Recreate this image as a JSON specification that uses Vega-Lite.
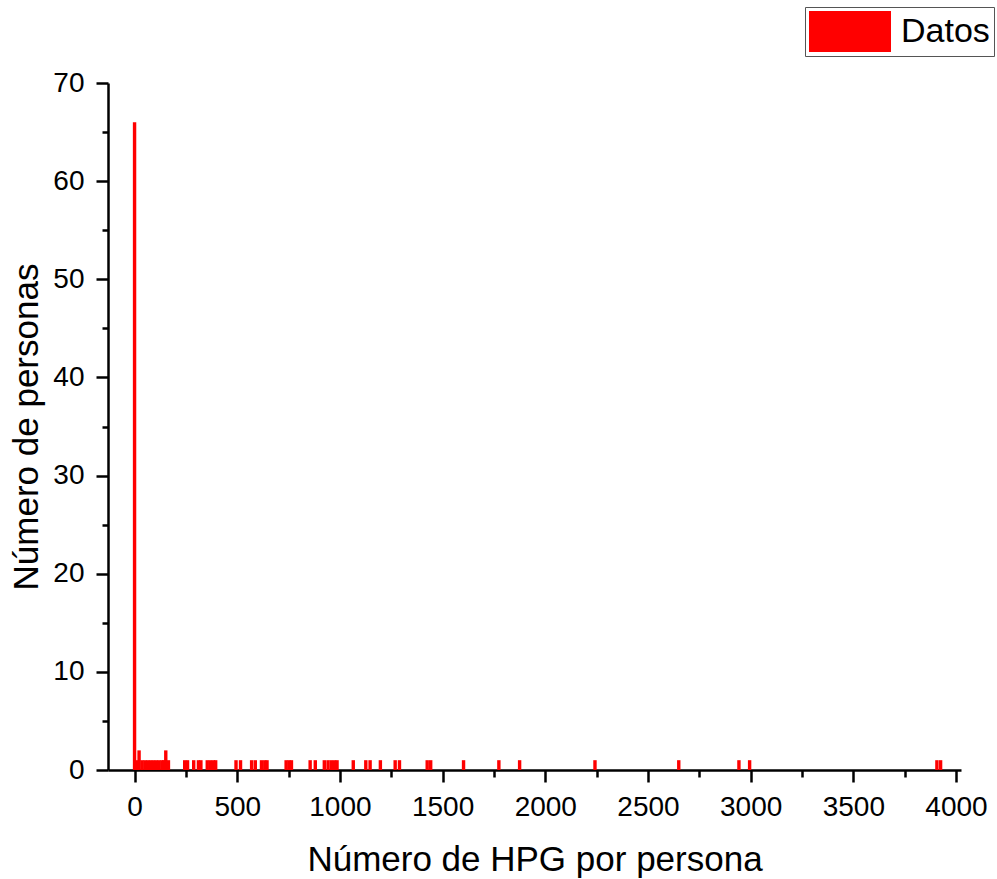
{
  "$schema": "https://vega.github.io/schema/vega-lite/v6.json",
  "width": 853,
  "height": 687,
  "autosize": {"type": "none"},
  "padding": {"left": 108, "top": 83, "right": 36, "bottom": 109},
  "background": "white",
  "config": {
    "view": {"stroke": null},
    "font": "Liberation Sans",
    "axis": {
      "domainColor": "black",
      "domainWidth": 2.5,
      "tickColor": "black",
      "tickWidth": 2.5,
      "labelColor": "black",
      "titleColor": "black",
      "labelFont": "Liberation Sans",
      "titleFont": "Liberation Sans",
      "labelFontSize": 28,
      "titleFontSize": 35,
      "titleFontWeight": "normal",
      "grid": false,
      "labelFlush": false,
      "labelOverlap": false
    }
  },
  "data": {
    "values": [
      {"hpg": 0, "n": 66},
      {"hpg": 10, "n": 1},
      {"hpg": 22, "n": 2},
      {"hpg": 36, "n": 1},
      {"hpg": 50, "n": 1},
      {"hpg": 64, "n": 1},
      {"hpg": 78, "n": 1},
      {"hpg": 92, "n": 1},
      {"hpg": 106, "n": 1},
      {"hpg": 120, "n": 1},
      {"hpg": 134, "n": 1},
      {"hpg": 142, "n": 1},
      {"hpg": 152, "n": 2},
      {"hpg": 165, "n": 1},
      {"hpg": 244, "n": 1},
      {"hpg": 258, "n": 1},
      {"hpg": 288, "n": 1},
      {"hpg": 311, "n": 1},
      {"hpg": 323, "n": 1},
      {"hpg": 354, "n": 1},
      {"hpg": 369, "n": 1},
      {"hpg": 384, "n": 1},
      {"hpg": 395, "n": 1},
      {"hpg": 494, "n": 1},
      {"hpg": 516, "n": 1},
      {"hpg": 570, "n": 1},
      {"hpg": 588, "n": 1},
      {"hpg": 618, "n": 1},
      {"hpg": 634, "n": 1},
      {"hpg": 645, "n": 1},
      {"hpg": 738, "n": 1},
      {"hpg": 752, "n": 1},
      {"hpg": 764, "n": 1},
      {"hpg": 855, "n": 1},
      {"hpg": 880, "n": 1},
      {"hpg": 924, "n": 1},
      {"hpg": 942, "n": 1},
      {"hpg": 958, "n": 1},
      {"hpg": 974, "n": 1},
      {"hpg": 986, "n": 1},
      {"hpg": 1065, "n": 1},
      {"hpg": 1126, "n": 1},
      {"hpg": 1147, "n": 1},
      {"hpg": 1197, "n": 1},
      {"hpg": 1269, "n": 1},
      {"hpg": 1290, "n": 1},
      {"hpg": 1425, "n": 1},
      {"hpg": 1442, "n": 1},
      {"hpg": 1602, "n": 1},
      {"hpg": 1774, "n": 1},
      {"hpg": 1875, "n": 1},
      {"hpg": 2242, "n": 1},
      {"hpg": 2650, "n": 1},
      {"hpg": 2943, "n": 1},
      {"hpg": 2995, "n": 1},
      {"hpg": 3907, "n": 1},
      {"hpg": 3925, "n": 1}
    ]
  },
  "layer": [
    {
      "mark": {"type": "bar", "size": 3.4},
      "encoding": {
        "x": {
          "field": "hpg",
          "type": "quantitative",
          "scale": {"domain": [-105, 4000], "nice": false, "zero": false},
          "axis": {
            "orient": "bottom",
            "title": "Número de HPG por persona",
            "values": [0, 500, 1000, 1500, 2000, 2500, 3000, 3500, 4000],
            "format": "d",
            "tickSize": 12,
            "labelPadding": 11,
            "titlePadding": 21
          }
        },
        "y": {
          "field": "n",
          "type": "quantitative",
          "scale": {"domain": [0, 70], "nice": false},
          "axis": {
            "orient": "left",
            "title": "Número de personas",
            "values": [0, 10, 20, 30, 40, 50, 60, 70],
            "format": "d",
            "tickSize": 12,
            "labelPadding": 12,
            "titlePadding": 8
          }
        },
        "color": {
          "datum": "Datos",
          "type": "nominal",
          "scale": {"range": ["#ff0000"]},
          "legend": {
            "title": null,
            "orient": "none",
            "legendX": 697,
            "legendY": -76,
            "symbolType": "M-1,-0.5H1V0.5H-1Z",
            "symbolSize": 6724,
            "symbolStrokeWidth": 0,
            "symbolOpacity": 1,
            "clipHeight": 41,
            "labelFont": "Liberation Sans",
            "labelFontSize": 34,
            "labelColor": "black",
            "labelOffset": 10,
            "labelLimit": 400,
            "padding": 4,
            "strokeColor": "#555555",
            "fillColor": "white"
          }
        }
      }
    },
    {
      "mark": {"type": "bar", "size": 3.4, "opacity": 0},
      "encoding": {
        "x": {
          "field": "hpg",
          "type": "quantitative",
          "axis": {
            "orient": "bottom",
            "title": null,
            "values": [250, 750, 1250, 1750, 2250, 2750, 3250, 3750],
            "labels": false,
            "domain": false,
            "tickSize": 7
          }
        },
        "y": {
          "field": "n",
          "type": "quantitative",
          "axis": {
            "orient": "left",
            "title": null,
            "values": [5, 15, 25, 35, 45, 55, 65],
            "labels": false,
            "domain": false,
            "tickSize": 6
          }
        }
      }
    }
  ],
  "resolve": {"axis": {"x": "independent", "y": "independent"}}
}
